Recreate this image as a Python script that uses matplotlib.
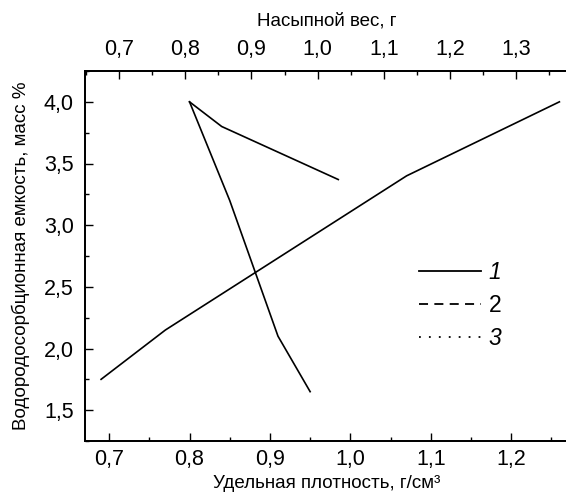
import matplotlib.pyplot as plt
from matplotlib.lines import Line2D
from matplotlib.ticker import MultipleLocator, FuncFormatter

plt.rcParams['font.family'] = ['Liberation Sans', 'DejaVu Sans']

# Curve 1 (rising)
density_1 = [0.69, 0.77, 1.07, 1.26]
capacity_1 = [1.75, 2.15, 3.4, 4.0]
# Curve 2 (upper branch)
density_2 = [0.80, 0.84, 0.985]
capacity_2 = [4.0, 3.8, 3.37]
# Curve 3 (falling branch)
density_3 = [0.80, 0.85, 0.91, 0.95]
capacity_3 = [4.0, 3.2, 2.1, 1.65]

legend_labels = ['1', '2', '3']
legend_styles = ['-', (0, (5, 3.5)), (0, (1, 4.5))]

comma = FuncFormatter(lambda v, p: f"{v:.1f}".replace('.', ','))

fig = plt.figure(figsize=(5.66, 4.93), dpi=100)
ax = fig.add_axes([85 / 566, 52 / 493, 483 / 566, 370 / 493])

ax.plot(density_1, capacity_1, color='black', lw=1.2)
ax.plot(density_2, capacity_2, color='black', lw=1.2)
ax.plot(density_3, capacity_3, color='black', lw=1.2)

ax.set_xlim(0.670, 1.2707)
ax.set_ylim(1.25, 4.25)
ax.xaxis.set_major_locator(MultipleLocator(0.1))
ax.xaxis.set_minor_locator(MultipleLocator(0.05))
ax.yaxis.set_major_locator(MultipleLocator(0.5))
ax.yaxis.set_minor_locator(MultipleLocator(0.25))
ax.xaxis.set_major_formatter(comma)
ax.yaxis.set_major_formatter(comma)
ax.tick_params(which='both', direction='in', labelsize=15.5, width=1, pad=6)
ax.tick_params(axis='y', pad=8)
ax.tick_params(which='major', length=6)
ax.tick_params(which='minor', length=3)
ax.set_xlabel('Удельная плотность, г/см³', fontsize=13.5, labelpad=3)
ax.set_ylabel('Водородосорбционная емкость, масс %', fontsize=13.5, labelpad=10)

# top axis: bulk weight
top = ax.twiny()
top.set_xlim(0.6486, 1.3782)
top.xaxis.set_major_locator(MultipleLocator(0.1))
top.xaxis.set_minor_locator(MultipleLocator(0.05))
top.xaxis.set_major_formatter(comma)
top.tick_params(which='both', direction='in', labelsize=15.5, width=1, pad=8)
top.tick_params(which='major', length=6)
top.tick_params(which='minor', length=3)
top.set_xlabel('Насыпной вес, г', fontsize=13.5, labelpad=10)

for a in (ax, top):
    for s in a.spines.values():
        s.set_linewidth(1.3)

handles = [Line2D([], [], color='black', lw=1.3, ls=s) for s in legend_styles]
leg = ax.legend(handles, legend_labels, loc='upper left', bbox_to_anchor=(0.6915, 0.487),
                frameon=False, fontsize=16.5, handlelength=2.7, handletextpad=0.35,
                labelspacing=0.45, borderpad=0, borderaxespad=0)
for i, t in enumerate(leg.get_texts()):
    if i != 1:
        t.set_style('italic')

fig.savefig('out.png', dpi=100)
